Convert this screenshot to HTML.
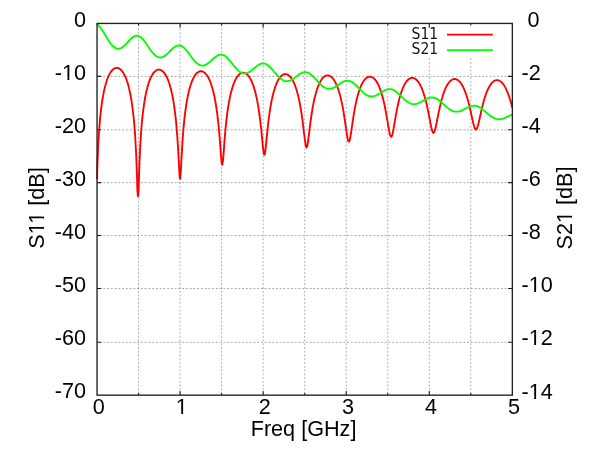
<!DOCTYPE html>
<html><head><meta charset="utf-8"><title>S11 / S21</title>
<style>
html,body{margin:0;padding:0;background:#fff;overflow:hidden;}
svg{display:block;}
text{font-family:"Liberation Sans",Arial,sans-serif;font-size:23.1px;fill:#000;}
.k{font-family:"DejaVu Sans","Liberation Sans",sans-serif;font-size:17.3px;fill:#111;}
.g{stroke:#000;stroke-opacity:.38;stroke-width:1;stroke-dasharray:2 2;stroke-dashoffset:1.2;fill:none;}
.b{stroke:#1c1c1c;stroke-width:1.12;fill:none;}
.bb{stroke:#222;stroke-width:1.45;fill:none;}
.gv{stroke-opacity:.34;stroke-dashoffset:2.7;}
.c{fill:none;stroke-width:2;stroke-linejoin:round;}
</style></head><body>
<svg width="600" height="450" viewBox="0 0 640 480">
<rect width="640" height="480" fill="#fff"/>

<path class="g gv" d="M147.80,421.5 V25.0 M192.10,421.5 V25.0 M236.40,421.5 V25.0 M280.70,421.5 V25.0 M325.00,421.5 V25.0 M369.30,421.5 V25.0 M413.60,421.5 V25.0 M457.90,421.5 V25.0 M502.20,421.5 V25.0"/>
<path class="g" d="M103.5,81.45 H546.5 M103.5,138.45 H546.5 M103.5,194.80 H546.5 M103.5,251.30 H546.5 M103.5,307.70 H546.5 M103.5,365.15 H546.5"/>
<rect x="430" y="26" width="116" height="36" fill="#fff"/>
<path class="b" d="M147.80,421.5 v-2.25 M147.80,25.0 v2.25 M192.10,421.5 v-4.50 M192.10,25.0 v4.50 M236.40,421.5 v-2.25 M236.40,25.0 v2.25 M280.70,421.5 v-4.50 M280.70,25.0 v4.50 M325.00,421.5 v-2.25 M325.00,25.0 v2.25 M369.30,421.5 v-4.50 M369.30,25.0 v4.50 M413.60,421.5 v-2.25 M413.60,25.0 v2.25 M457.90,421.5 v-4.50 M457.90,25.0 v4.50 M502.20,421.5 v-2.25 M502.20,25.0 v2.25 M103.5,81.45 h4.5 M546.5,81.45 h-4.5 M103.5,138.45 h4.5 M546.5,138.45 h-4.5 M103.5,194.80 h4.5 M546.5,194.80 h-4.5 M103.5,251.30 h4.5 M546.5,251.30 h-4.5 M103.5,307.70 h4.5 M546.5,307.70 h-4.5 M103.5,365.15 h4.5 M546.5,365.15 h-4.5"/>
<path class="c" d="M103.5,191.3 L103.9,175.4 L104.4,163.4 L104.8,153.8 L105.3,145.9 L105.7,139.2 L106.2,133.3 L106.6,128.1 L107.0,123.5 L107.5,119.4 L107.9,115.6 L108.4,112.2 L108.8,109.0 L109.3,106.1 L109.7,103.5 L110.2,101.0 L110.6,98.7 L111.0,96.6 L111.5,94.6 L111.9,92.8 L112.4,91.1 L112.8,89.5 L113.3,88.0 L113.7,86.6 L114.1,85.3 L114.6,84.0 L115.0,82.9 L115.5,81.8 L115.9,80.9 L116.4,79.9 L116.8,79.1 L117.2,78.3 L117.7,77.5 L118.1,76.9 L118.6,76.2 L119.0,75.7 L119.5,75.2 L119.9,74.7 L120.4,74.3 L120.8,73.9 L121.2,73.5 L121.7,73.3 L122.1,73.0 L122.6,72.8 L123.0,72.6 L123.5,72.5 L123.9,72.4 L124.3,72.4 L124.8,72.4 L125.2,72.4 L125.7,72.5 L126.1,72.7 L126.6,72.8 L127.0,73.0 L127.4,73.3 L127.9,73.6 L128.3,73.9 L128.8,74.3 L129.2,74.7 L129.7,75.2 L130.1,75.7 L130.6,76.3 L131.0,76.9 L131.4,77.5 L131.9,78.3 L132.3,79.1 L132.8,79.9 L133.2,80.8 L133.7,81.8 L134.1,82.8 L134.5,83.9 L135.0,85.1 L135.4,86.4 L135.9,87.7 L136.3,89.2 L136.8,90.7 L137.2,92.4 L137.6,94.2 L138.1,96.1 L138.5,98.1 L139.0,100.3 L139.4,102.6 L139.9,105.1 L140.3,107.8 L140.7,110.7 L141.2,113.9 L141.6,117.3 L142.1,121.1 L142.5,125.3 L143.0,129.8 L143.4,134.9 L143.9,140.7 L144.3,147.2 L144.7,154.7 L145.2,163.6 L145.6,174.1 L146.1,186.8 L146.5,201.6 L147.0,209.1 L147.4,209.1 L147.8,202.4 L148.3,187.5 L148.7,174.7 L149.2,164.2 L149.6,155.3 L150.1,147.8 L150.5,141.3 L150.9,135.5 L151.4,130.5 L151.8,125.9 L152.3,121.8 L152.7,118.0 L153.2,114.6 L153.6,111.5 L154.1,108.6 L154.5,105.9 L154.9,103.4 L155.4,101.1 L155.8,99.0 L156.3,97.0 L156.7,95.1 L157.2,93.4 L157.6,91.8 L158.0,90.3 L158.5,88.8 L158.9,87.5 L159.4,86.3 L159.8,85.1 L160.3,84.0 L160.7,83.0 L161.1,82.1 L161.6,81.2 L162.0,80.4 L162.5,79.6 L162.9,78.9 L163.4,78.3 L163.8,77.7 L164.3,77.2 L164.7,76.7 L165.1,76.3 L165.6,75.9 L166.0,75.5 L166.5,75.2 L166.9,75.0 L167.4,74.7 L167.8,74.6 L168.2,74.4 L168.7,74.3 L169.1,74.3 L169.6,74.3 L170.0,74.3 L170.5,74.4 L170.9,74.5 L171.3,74.7 L171.8,74.9 L172.2,75.1 L172.7,75.4 L173.1,75.7 L173.6,76.1 L174.0,76.5 L174.5,76.9 L174.9,77.5 L175.3,78.0 L175.8,78.6 L176.2,79.3 L176.7,80.0 L177.1,80.8 L177.6,81.6 L178.0,82.5 L178.4,83.4 L178.9,84.5 L179.3,85.6 L179.8,86.7 L180.2,88.0 L180.7,89.3 L181.1,90.7 L181.5,92.2 L182.0,93.9 L182.4,95.6 L182.9,97.4 L183.3,99.4 L183.8,101.5 L184.2,103.8 L184.7,106.2 L185.1,108.8 L185.5,111.6 L186.0,114.6 L186.4,117.9 L186.9,121.5 L187.3,125.4 L187.8,129.6 L188.2,134.3 L188.6,139.5 L189.1,145.2 L189.5,151.6 L190.0,158.7 L190.4,166.6 L190.9,175.1 L191.3,183.3 L191.7,189.4 L192.2,190.8 L192.6,186.7 L193.1,179.2 L193.5,170.7 L194.0,162.5 L194.4,155.1 L194.8,148.4 L195.3,142.4 L195.7,137.0 L196.2,132.1 L196.6,127.7 L197.1,123.7 L197.5,120.0 L198.0,116.7 L198.4,113.6 L198.8,110.7 L199.3,108.0 L199.7,105.5 L200.2,103.2 L200.6,101.1 L201.1,99.1 L201.5,97.2 L201.9,95.5 L202.4,93.9 L202.8,92.3 L203.3,90.9 L203.7,89.5 L204.2,88.3 L204.6,87.1 L205.0,86.0 L205.5,85.0 L205.9,84.0 L206.4,83.1 L206.8,82.3 L207.3,81.5 L207.7,80.8 L208.2,80.2 L208.6,79.6 L209.0,79.0 L209.5,78.5 L209.9,78.1 L210.4,77.7 L210.8,77.3 L211.3,77.0 L211.7,76.7 L212.1,76.5 L212.6,76.3 L213.0,76.1 L213.5,76.0 L213.9,76.0 L214.4,76.0 L214.8,76.0 L215.2,76.0 L215.7,76.1 L216.1,76.3 L216.6,76.5 L217.0,76.7 L217.5,77.0 L217.9,77.3 L218.4,77.6 L218.8,78.0 L219.2,78.5 L219.7,79.0 L220.1,79.5 L220.6,80.1 L221.0,80.7 L221.5,81.4 L221.9,82.2 L222.3,83.0 L222.8,83.9 L223.2,84.8 L223.7,85.8 L224.1,86.9 L224.6,88.0 L225.0,89.2 L225.4,90.5 L225.9,91.9 L226.3,93.3 L226.8,94.9 L227.2,96.6 L227.7,98.3 L228.1,100.2 L228.6,102.3 L229.0,104.4 L229.4,106.7 L229.9,109.2 L230.3,111.8 L230.8,114.7 L231.2,117.7 L231.7,121.0 L232.1,124.6 L232.5,128.4 L233.0,132.6 L233.4,137.1 L233.9,142.0 L234.3,147.3 L234.8,153.0 L235.2,158.9 L235.6,164.8 L236.1,170.2 L236.5,174.2 L237.0,175.8 L237.4,174.5 L237.9,170.8 L238.3,165.6 L238.8,159.7 L239.2,153.8 L239.6,148.2 L240.1,142.9 L240.5,138.0 L241.0,133.4 L241.4,129.3 L241.9,125.4 L242.3,121.9 L242.7,118.6 L243.2,115.5 L243.6,112.7 L244.1,110.1 L244.5,107.6 L245.0,105.3 L245.4,103.2 L245.8,101.2 L246.3,99.3 L246.7,97.5 L247.2,95.9 L247.6,94.3 L248.1,92.9 L248.5,91.5 L248.9,90.3 L249.4,89.1 L249.8,88.0 L250.3,86.9 L250.7,85.9 L251.2,85.0 L251.6,84.2 L252.1,83.4 L252.5,82.7 L252.9,82.0 L253.4,81.4 L253.8,80.8 L254.3,80.3 L254.7,79.8 L255.2,79.4 L255.6,79.0 L256.0,78.7 L256.5,78.4 L256.9,78.1 L257.4,77.9 L257.8,77.8 L258.3,77.6 L258.7,77.6 L259.1,77.5 L259.6,77.5 L260.0,77.6 L260.5,77.7 L260.9,77.8 L261.4,78.0 L261.8,78.2 L262.3,78.4 L262.7,78.7 L263.1,79.0 L263.6,79.4 L264.0,79.8 L264.5,80.3 L264.9,80.8 L265.4,81.4 L265.8,82.0 L266.2,82.7 L266.7,83.4 L267.1,84.2 L267.6,85.0 L268.0,85.9 L268.5,86.9 L268.9,87.9 L269.3,89.0 L269.8,90.2 L270.2,91.4 L270.7,92.7 L271.1,94.1 L271.6,95.6 L272.0,97.2 L272.5,98.9 L272.9,100.7 L273.3,102.6 L273.8,104.6 L274.2,106.8 L274.7,109.1 L275.1,111.6 L275.6,114.2 L276.0,117.0 L276.4,120.0 L276.9,123.2 L277.3,126.6 L277.8,130.3 L278.2,134.2 L278.7,138.4 L279.1,142.7 L279.5,147.3 L280.0,151.9 L280.4,156.3 L280.9,160.3 L281.3,163.4 L281.8,165.0 L282.2,165.1 L282.7,163.4 L283.1,160.3 L283.5,156.4 L284.0,151.9 L284.4,147.4 L284.9,142.9 L285.3,138.6 L285.8,134.4 L286.2,130.6 L286.6,126.9 L287.1,123.6 L287.5,120.4 L288.0,117.4 L288.4,114.6 L288.9,112.0 L289.3,109.6 L289.7,107.3 L290.2,105.2 L290.6,103.2 L291.1,101.3 L291.5,99.6 L292.0,97.9 L292.4,96.4 L292.9,94.9 L293.3,93.5 L293.7,92.2 L294.2,91.0 L294.6,89.9 L295.1,88.8 L295.5,87.8 L296.0,86.9 L296.4,86.0 L296.8,85.2 L297.3,84.5 L297.7,83.8 L298.2,83.1 L298.6,82.5 L299.1,82.0 L299.5,81.5 L299.9,81.1 L300.4,80.7 L300.8,80.3 L301.3,80.0 L301.7,79.7 L302.2,79.5 L302.6,79.3 L303.0,79.2 L303.5,79.1 L303.9,79.0 L304.4,79.0 L304.8,79.0 L305.3,79.1 L305.7,79.2 L306.2,79.3 L306.6,79.5 L307.0,79.8 L307.5,80.0 L307.9,80.3 L308.4,80.7 L308.8,81.1 L309.3,81.5 L309.7,82.0 L310.1,82.6 L310.6,83.1 L311.0,83.8 L311.5,84.5 L311.9,85.2 L312.4,86.0 L312.8,86.8 L313.2,87.8 L313.7,88.7 L314.1,89.8 L314.6,90.9 L315.0,92.1 L315.5,93.3 L315.9,94.6 L316.4,96.0 L316.8,97.5 L317.2,99.1 L317.7,100.8 L318.1,102.6 L318.6,104.5 L319.0,106.5 L319.5,108.7 L319.9,110.9 L320.3,113.3 L320.8,115.9 L321.2,118.6 L321.7,121.5 L322.1,124.5 L322.6,127.7 L323.0,131.1 L323.4,134.6 L323.9,138.3 L324.3,142.0 L324.8,145.7 L325.2,149.2 L325.7,152.4 L326.1,155.0 L326.6,156.7 L327.0,157.4 L327.4,156.8 L327.9,155.2 L328.3,152.7 L328.8,149.6 L329.2,146.1 L329.7,142.5 L330.1,138.8 L330.5,135.1 L331.0,131.6 L331.4,128.3 L331.9,125.1 L332.3,122.1 L332.8,119.2 L333.2,116.5 L333.6,114.0 L334.1,111.6 L334.5,109.4 L335.0,107.3 L335.4,105.3 L335.9,103.4 L336.3,101.6 L336.8,100.0 L337.2,98.4 L337.6,96.9 L338.1,95.5 L338.5,94.2 L339.0,93.0 L339.4,91.8 L339.9,90.7 L340.3,89.7 L340.7,88.8 L341.2,87.9 L341.6,87.1 L342.1,86.3 L342.5,85.6 L343.0,84.9 L343.4,84.3 L343.8,83.7 L344.3,83.2 L344.7,82.7 L345.2,82.3 L345.6,81.9 L346.1,81.6 L346.5,81.3 L347.0,81.1 L347.4,80.8 L347.8,80.7 L348.3,80.6 L348.7,80.5 L349.2,80.4 L349.6,80.4 L350.1,80.5 L350.5,80.5 L350.9,80.7 L351.4,80.8 L351.8,81.0 L352.3,81.3 L352.7,81.5 L353.2,81.9 L353.6,82.2 L354.0,82.6 L354.5,83.1 L354.9,83.6 L355.4,84.1 L355.8,84.7 L356.3,85.4 L356.7,86.1 L357.1,86.8 L357.6,87.6 L358.0,88.5 L358.5,89.4 L358.9,90.4 L359.4,91.4 L359.8,92.5 L360.3,93.7 L360.7,95.0 L361.1,96.3 L361.6,97.7 L362.0,99.2 L362.5,100.7 L362.9,102.4 L363.4,104.1 L363.8,106.0 L364.2,108.0 L364.7,110.0 L365.1,112.2 L365.6,114.5 L366.0,117.0 L366.5,119.5 L366.9,122.2 L367.3,125.0 L367.8,128.0 L368.2,131.0 L368.7,134.1 L369.1,137.2 L369.6,140.3 L370.0,143.2 L370.5,145.9 L370.9,148.2 L371.3,149.9 L371.8,150.9 L372.2,151.1 L372.7,150.4 L373.1,149.0 L373.6,147.0 L374.0,144.4 L374.4,141.6 L374.9,138.6 L375.3,135.5 L375.8,132.4 L376.2,129.4 L376.7,126.5 L377.1,123.6 L377.5,120.9 L378.0,118.4 L378.4,115.9 L378.9,113.6 L379.3,111.4 L379.8,109.3 L380.2,107.3 L380.7,105.4 L381.1,103.7 L381.5,102.0 L382.0,100.4 L382.4,98.9 L382.9,97.5 L383.3,96.2 L383.8,95.0 L384.2,93.8 L384.6,92.7 L385.1,91.6 L385.5,90.7 L386.0,89.7 L386.4,88.9 L386.9,88.1 L387.3,87.3 L387.7,86.7 L388.2,86.0 L388.6,85.4 L389.1,84.9 L389.5,84.4 L390.0,83.9 L390.4,83.5 L390.9,83.2 L391.3,82.8 L391.7,82.6 L392.2,82.3 L392.6,82.1 L393.1,82.0 L393.5,81.9 L394.0,81.8 L394.4,81.8 L394.8,81.8 L395.3,81.8 L395.7,81.9 L396.2,82.0 L396.6,82.2 L397.1,82.4 L397.5,82.7 L397.9,82.9 L398.4,83.3 L398.8,83.6 L399.3,84.1 L399.7,84.5 L400.2,85.0 L400.6,85.6 L401.1,86.2 L401.5,86.8 L401.9,87.5 L402.4,88.3 L402.8,89.1 L403.3,89.9 L403.7,90.8 L404.2,91.8 L404.6,92.8 L405.0,93.9 L405.5,95.1 L405.9,96.3 L406.4,97.6 L406.8,99.0 L407.3,100.5 L407.7,102.0 L408.1,103.6 L408.6,105.3 L409.0,107.1 L409.5,109.0 L409.9,111.0 L410.4,113.1 L410.8,115.2 L411.2,117.5 L411.7,119.9 L412.1,122.4 L412.6,124.9 L413.0,127.5 L413.5,130.2 L413.9,132.9 L414.4,135.5 L414.8,138.0 L415.2,140.4 L415.7,142.5 L416.1,144.1 L416.6,145.3 L417.0,145.9 L417.5,145.9 L417.9,145.3 L418.3,144.1 L418.8,142.4 L419.2,140.4 L419.7,138.0 L420.1,135.5 L420.6,132.9 L421.0,130.2 L421.4,127.6 L421.9,125.0 L422.3,122.5 L422.8,120.1 L423.2,117.7 L423.7,115.5 L424.1,113.3 L424.6,111.3 L425.0,109.4 L425.4,107.5 L425.9,105.7 L426.3,104.1 L426.8,102.5 L427.2,101.0 L427.7,99.6 L428.1,98.2 L428.5,97.0 L429.0,95.8 L429.4,94.6 L429.9,93.6 L430.3,92.6 L430.8,91.6 L431.2,90.7 L431.6,89.9 L432.1,89.1 L432.5,88.4 L433.0,87.8 L433.4,87.1 L433.9,86.6 L434.3,86.0 L434.8,85.6 L435.2,85.1 L435.6,84.7 L436.1,84.4 L436.5,84.1 L437.0,83.8 L437.4,83.6 L437.9,83.4 L438.3,83.3 L438.7,83.1 L439.2,83.1 L439.6,83.1 L440.1,83.1 L440.5,83.1 L441.0,83.2 L441.4,83.3 L441.8,83.5 L442.3,83.7 L442.7,84.0 L443.2,84.3 L443.6,84.6 L444.1,85.0 L444.5,85.4 L445.0,85.8 L445.4,86.3 L445.8,86.9 L446.3,87.5 L446.7,88.1 L447.2,88.8 L447.6,89.6 L448.1,90.3 L448.5,91.2 L448.9,92.1 L449.4,93.0 L449.8,94.1 L450.3,95.1 L450.7,96.3 L451.2,97.5 L451.6,98.7 L452.0,100.1 L452.5,101.5 L452.9,102.9 L453.4,104.5 L453.8,106.1 L454.3,107.8 L454.7,109.6 L455.2,111.5 L455.6,113.5 L456.0,115.5 L456.5,117.6 L456.9,119.8 L457.4,122.0 L457.8,124.3 L458.3,126.6 L458.7,129.0 L459.1,131.3 L459.6,133.5 L460.0,135.6 L460.5,137.5 L460.9,139.1 L461.4,140.4 L461.8,141.3 L462.2,141.7 L462.7,141.7 L463.1,141.1 L463.6,140.1 L464.0,138.7 L464.5,137.1 L464.9,135.1 L465.3,133.0 L465.8,130.8 L466.2,128.5 L466.7,126.2 L467.1,123.9 L467.6,121.6 L468.0,119.4 L468.5,117.3 L468.9,115.2 L469.3,113.3 L469.8,111.4 L470.2,109.5 L470.7,107.8 L471.1,106.1 L471.6,104.6 L472.0,103.1 L472.4,101.6 L472.9,100.3 L473.3,99.0 L473.8,97.8 L474.2,96.6 L474.7,95.5 L475.1,94.5 L475.5,93.5 L476.0,92.6 L476.4,91.8 L476.9,91.0 L477.3,90.2 L477.8,89.5 L478.2,88.9 L478.7,88.3 L479.1,87.7 L479.5,87.2 L480.0,86.7 L480.4,86.3 L480.9,85.9 L481.3,85.6 L481.8,85.3 L482.2,85.0 L482.6,84.8 L483.1,84.6 L483.5,84.5 L484.0,84.4 L484.4,84.3 L484.9,84.3 L485.3,84.3 L485.7,84.4 L486.2,84.4 L486.6,84.6 L487.1,84.7 L487.5,85.0 L488.0,85.2 L488.4,85.5 L488.9,85.8 L489.3,86.2 L489.7,86.6 L490.2,87.0 L490.6,87.5 L491.1,88.1 L491.5,88.7 L492.0,89.3 L492.4,90.0 L492.8,90.7 L493.3,91.5 L493.7,92.3 L494.2,93.2 L494.6,94.1 L495.1,95.1 L495.5,96.1 L495.9,97.2 L496.4,98.4 L496.8,99.6 L497.3,100.9 L497.7,102.2 L498.2,103.6 L498.6,105.1 L499.1,106.6 L499.5,108.2 L499.9,109.9 L500.4,111.7 L500.8,113.5 L501.3,115.4 L501.7,117.3 L502.2,119.3 L502.6,121.3 L503.0,123.4 L503.5,125.4 L503.9,127.5 L504.4,129.5 L504.8,131.4 L505.3,133.1 L505.7,134.7 L506.1,136.0 L506.6,137.1 L507.0,137.8 L507.5,138.1 L507.9,138.1 L508.4,137.6 L508.8,136.8 L509.3,135.7 L509.7,134.3 L510.1,132.7 L510.6,130.9 L511.0,129.0 L511.5,127.0 L511.9,125.0 L512.4,123.0 L512.8,121.0 L513.2,119.0 L513.7,117.0 L514.1,115.1 L514.6,113.3 L515.0,111.5 L515.5,109.8 L515.9,108.2 L516.3,106.6 L516.8,105.1 L517.2,103.7 L517.7,102.3 L518.1,101.1 L518.6,99.8 L519.0,98.6 L519.4,97.5 L519.9,96.5 L520.3,95.5 L520.8,94.5 L521.2,93.7 L521.7,92.8 L522.1,92.0 L522.6,91.3 L523.0,90.6 L523.4,90.0 L523.9,89.4 L524.3,88.8 L524.8,88.3 L525.2,87.9 L525.7,87.5 L526.1,87.1 L526.5,86.7 L527.0,86.5 L527.4,86.2 L527.9,86.0 L528.3,85.8 L528.8,85.7 L529.2,85.6 L529.6,85.5 L530.1,85.5 L530.5,85.5 L531.0,85.5 L531.4,85.6 L531.9,85.7 L532.3,85.9 L532.8,86.1 L533.2,86.3 L533.6,86.6 L534.1,86.9 L534.5,87.3 L535.0,87.7 L535.4,88.1 L535.9,88.6 L536.3,89.1 L536.7,89.7 L537.2,90.3 L537.6,91.0 L538.1,91.7 L538.5,92.4 L539.0,93.2 L539.4,94.0 L539.8,94.9 L540.3,95.9 L540.7,96.9 L541.2,97.9 L541.6,99.0 L542.1,100.2 L542.5,101.4 L543.0,102.7 L543.4,104.0 L543.8,105.4 L544.3,106.9 L544.7,108.4 L545.2,110.0 L545.6,111.6 L546.1,113.3 L546.5,115.0" stroke="#f00"/>
<path class="c" d="M103.5,25.1 L104.6,26.6 L105.7,27.8 L106.8,29.1 L107.9,30.6 L109.1,32.3 L110.2,34.0 L111.3,35.8 L112.4,37.7 L113.5,39.5 L114.6,41.4 L115.7,43.1 L116.8,44.8 L117.9,46.4 L119.0,47.7 L120.2,49.0 L121.3,50.0 L122.4,50.8 L123.5,51.4 L124.6,51.8 L125.7,52.0 L126.8,52.0 L127.9,51.7 L129.0,51.3 L130.1,50.7 L131.3,49.9 L132.4,48.9 L133.5,47.9 L134.6,46.8 L135.7,45.6 L136.8,44.4 L137.9,43.2 L139.0,42.0 L140.1,41.0 L141.2,40.0 L142.4,39.2 L143.5,38.6 L144.6,38.2 L145.7,38.1 L146.8,38.1 L147.9,38.4 L149.0,39.0 L150.1,39.7 L151.2,40.7 L152.4,41.9 L153.5,43.2 L154.6,44.7 L155.7,46.2 L156.8,47.8 L157.9,49.5 L159.0,51.1 L160.1,52.7 L161.2,54.3 L162.3,55.7 L163.5,57.0 L164.6,58.2 L165.7,59.2 L166.8,60.0 L167.9,60.6 L169.0,61.0 L170.1,61.3 L171.2,61.3 L172.3,61.2 L173.4,60.8 L174.6,60.3 L175.7,59.6 L176.8,58.8 L177.9,57.9 L179.0,56.9 L180.1,55.8 L181.2,54.7 L182.3,53.6 L183.4,52.5 L184.6,51.5 L185.7,50.6 L186.8,49.8 L187.9,49.1 L189.0,48.7 L190.1,48.5 L191.2,48.4 L192.3,48.6 L193.4,49.0 L194.5,49.6 L195.7,50.4 L196.8,51.4 L197.9,52.6 L199.0,53.9 L200.1,55.3 L201.2,56.8 L202.3,58.3 L203.4,59.8 L204.5,61.3 L205.6,62.8 L206.8,64.1 L207.9,65.4 L209.0,66.5 L210.1,67.5 L211.2,68.4 L212.3,69.0 L213.4,69.5 L214.5,69.8 L215.6,70.0 L216.7,69.9 L217.9,69.7 L219.0,69.3 L220.1,68.7 L221.2,68.0 L222.3,67.2 L223.4,66.3 L224.5,65.4 L225.6,64.3 L226.7,63.3 L227.9,62.3 L229.0,61.4 L230.1,60.5 L231.2,59.7 L232.3,59.1 L233.4,58.6 L234.5,58.3 L235.6,58.2 L236.7,58.3 L237.8,58.6 L239.0,59.0 L240.1,59.7 L241.2,60.6 L242.3,61.6 L243.4,62.7 L244.5,64.0 L245.6,65.3 L246.7,66.7 L247.8,68.1 L248.9,69.5 L250.1,70.9 L251.2,72.2 L252.3,73.5 L253.4,74.6 L254.5,75.6 L255.6,76.5 L256.7,77.2 L257.8,77.7 L258.9,78.1 L260.0,78.3 L261.2,78.4 L262.3,78.2 L263.4,77.9 L264.5,77.5 L265.6,76.9 L266.7,76.2 L267.8,75.5 L268.9,74.6 L270.0,73.7 L271.2,72.8 L272.3,71.9 L273.4,71.0 L274.5,70.1 L275.6,69.4 L276.7,68.7 L277.8,68.2 L278.9,67.9 L280.0,67.7 L281.1,67.7 L282.3,67.9 L283.4,68.2 L284.5,68.8 L285.6,69.5 L286.7,70.4 L287.8,71.4 L288.9,72.5 L290.0,73.7 L291.1,75.0 L292.2,76.3 L293.4,77.6 L294.5,78.9 L295.6,80.2 L296.7,81.4 L297.8,82.5 L298.9,83.5 L300.0,84.4 L301.1,85.1 L302.2,85.7 L303.3,86.2 L304.5,86.5 L305.6,86.6 L306.7,86.6 L307.8,86.4 L308.9,86.1 L310.0,85.6 L311.1,85.1 L312.2,84.4 L313.3,83.7 L314.5,82.9 L315.6,82.0 L316.7,81.2 L317.8,80.3 L318.9,79.5 L320.0,78.8 L321.1,78.2 L322.2,77.7 L323.3,77.3 L324.4,77.0 L325.6,76.9 L326.7,77.0 L327.8,77.3 L328.9,77.7 L330.0,78.3 L331.1,79.0 L332.2,79.9 L333.3,80.9 L334.4,82.0 L335.5,83.1 L336.7,84.3 L337.8,85.6 L338.9,86.8 L340.0,88.0 L341.1,89.2 L342.2,90.3 L343.3,91.3 L344.4,92.2 L345.5,93.0 L346.7,93.6 L347.8,94.1 L348.9,94.5 L350.0,94.7 L351.1,94.8 L352.2,94.7 L353.3,94.5 L354.4,94.2 L355.5,93.7 L356.6,93.2 L357.8,92.6 L358.9,91.8 L360.0,91.1 L361.1,90.3 L362.2,89.6 L363.3,88.8 L364.4,88.1 L365.5,87.5 L366.6,86.9 L367.7,86.5 L368.9,86.2 L370.0,86.1 L371.1,86.1 L372.2,86.2 L373.3,86.5 L374.4,87.0 L375.5,87.6 L376.6,88.4 L377.7,89.2 L378.8,90.2 L380.0,91.2 L381.1,92.3 L382.2,93.5 L383.3,94.7 L384.4,95.8 L385.5,96.9 L386.6,98.0 L387.7,99.0 L388.8,99.9 L390.0,100.7 L391.1,101.4 L392.2,102.0 L393.3,102.4 L394.4,102.7 L395.5,102.9 L396.6,102.9 L397.7,102.8 L398.8,102.6 L399.9,102.3 L401.1,101.8 L402.2,101.3 L403.3,100.7 L404.4,100.0 L405.5,99.4 L406.6,98.6 L407.7,98.0 L408.8,97.3 L409.9,96.7 L411.0,96.1 L412.2,95.7 L413.3,95.4 L414.4,95.1 L415.5,95.1 L416.6,95.1 L417.7,95.3 L418.8,95.7 L419.9,96.2 L421.0,96.8 L422.1,97.5 L423.3,98.4 L424.4,99.3 L425.5,100.3 L426.6,101.4 L427.7,102.5 L428.8,103.6 L429.9,104.6 L431.0,105.7 L432.1,106.7 L433.3,107.6 L434.4,108.4 L435.5,109.1 L436.6,109.8 L437.7,110.3 L438.8,110.7 L439.9,110.9 L441.0,111.0 L442.1,111.0 L443.2,110.9 L444.4,110.7 L445.5,110.4 L446.6,109.9 L447.7,109.4 L448.8,108.9 L449.9,108.3 L451.0,107.6 L452.1,107.0 L453.2,106.4 L454.3,105.8 L455.5,105.2 L456.6,104.8 L457.7,104.4 L458.8,104.1 L459.9,104.0 L461.0,104.0 L462.1,104.1 L463.2,104.3 L464.3,104.7 L465.4,105.2 L466.6,105.8 L467.7,106.6 L468.8,107.4 L469.9,108.3 L471.0,109.3 L472.1,110.3 L473.2,111.3 L474.3,112.3 L475.4,113.3 L476.6,114.3 L477.7,115.2 L478.8,116.1 L479.9,116.8 L481.0,117.5 L482.1,118.0 L483.2,118.5 L484.3,118.8 L485.4,119.0 L486.5,119.1 L487.7,119.1 L488.8,119.0 L489.9,118.8 L491.0,118.4 L492.1,118.0 L493.2,117.6 L494.3,117.0 L495.4,116.5 L496.5,115.9 L497.6,115.3 L498.8,114.8 L499.9,114.3 L501.0,113.8 L502.1,113.4 L503.2,113.1 L504.3,112.9 L505.4,112.8 L506.5,112.8 L507.6,113.0 L508.8,113.2 L509.9,113.6 L511.0,114.2 L512.1,114.8 L513.2,115.5 L514.3,116.3 L515.4,117.2 L516.5,118.1 L517.6,119.0 L518.7,120.0 L519.9,121.0 L521.0,121.9 L522.1,122.8 L523.2,123.6 L524.3,124.4 L525.4,125.1 L526.5,125.7 L527.6,126.3 L528.7,126.7 L529.8,127.0 L531.0,127.2 L532.1,127.2 L533.2,127.2 L534.3,127.1 L535.4,126.9 L536.5,126.5 L537.6,126.2 L538.7,125.7 L539.8,125.2 L540.9,124.7 L542.1,124.2 L543.2,123.7 L544.3,123.2 L545.4,122.7 L546.5,122.3" stroke="#0f0"/>
<rect class="bb" x="103.5" y="25.0" width="443.0" height="396.5"/>
<g transform="translate(467.4,41.2) scale(0.86,1)"><text class="k" text-anchor="end">S11</text></g>
<g transform="translate(467.4,57.7) scale(0.86,1)"><text class="k" text-anchor="end">S21</text></g>
<path class="c" d="M476.8,36.9 H525.7" stroke="#f00"/>
<path class="c" d="M476.8,53.5 H525.7" stroke="#0f0"/>
<g transform="translate(91.80,28.50) scale(1,1.035)"><text text-anchor="end">0</text></g>
<g transform="translate(562.70,28.60) scale(1,1.035)"><text>0</text></g>
<g transform="translate(91.80,85.14) scale(1,1.035)"><text text-anchor="end">-10</text><rect x="-24.62" y="-2.73" width="4.75" height="3.73" fill="#fff"/><rect x="-17.83" y="-2.73" width="4.57" height="3.73" fill="#fff"/></g>
<g transform="translate(556.30,85.24) scale(1,1.035)"><text>-2</text></g>
<g transform="translate(91.80,141.79) scale(1,1.035)"><text text-anchor="end">-20</text></g>
<g transform="translate(556.30,141.89) scale(1,1.035)"><text>-4</text></g>
<g transform="translate(91.80,198.43) scale(1,1.035)"><text text-anchor="end">-30</text></g>
<g transform="translate(556.30,198.53) scale(1,1.035)"><text>-6</text></g>
<g transform="translate(91.80,255.07) scale(1,1.035)"><text text-anchor="end">-40</text></g>
<g transform="translate(556.30,255.17) scale(1,1.035)"><text>-8</text></g>
<g transform="translate(91.80,311.71) scale(1,1.035)"><text text-anchor="end">-50</text></g>
<g transform="translate(556.30,311.81) scale(1,1.035)"><text>-10</text><rect x="8.74" y="-2.73" width="4.75" height="3.73" fill="#fff"/><rect x="15.53" y="-2.73" width="4.57" height="3.73" fill="#fff"/></g>
<g transform="translate(91.80,368.36) scale(1,1.035)"><text text-anchor="end">-60</text></g>
<g transform="translate(556.30,368.46) scale(1,1.035)"><text>-12</text><rect x="8.74" y="-2.73" width="4.75" height="3.73" fill="#fff"/><rect x="15.53" y="-2.73" width="4.57" height="3.73" fill="#fff"/></g>
<g transform="translate(91.80,425.00) scale(1,1.035)"><text text-anchor="end">-70</text></g>
<g transform="translate(556.30,425.10) scale(1,1.035)"><text>-14</text><rect x="8.74" y="-2.73" width="4.75" height="3.73" fill="#fff"/><rect x="15.53" y="-2.73" width="4.57" height="3.73" fill="#fff"/></g>
<g transform="translate(105.30,441.10) scale(1,1.035)"><text text-anchor="middle">0</text></g>
<g transform="translate(193.90,441.10) scale(1,1.035)"><text text-anchor="middle">1</text><rect x="-5.36" y="-2.73" width="4.75" height="3.73" fill="#fff"/><rect x="1.43" y="-2.73" width="4.57" height="3.73" fill="#fff"/></g>
<g transform="translate(282.50,441.10) scale(1,1.035)"><text text-anchor="middle">2</text></g>
<g transform="translate(371.10,441.10) scale(1,1.035)"><text text-anchor="middle">3</text></g>
<g transform="translate(459.70,441.10) scale(1,1.035)"><text text-anchor="middle">4</text></g>
<g transform="translate(548.30,441.10) scale(1,1.035)"><text text-anchor="middle">5</text></g>
<g transform="translate(323.80,465.40) scale(1,1.035)"><text text-anchor="middle">Freq [GHz]</text></g>
<g transform="translate(46.90,221.90) rotate(-90) scale(1,1.035)"><text text-anchor="middle">S11 [dB]</text><rect x="-26.97" y="-2.73" width="4.75" height="3.73" fill="#fff"/><rect x="-20.18" y="-2.73" width="4.57" height="3.73" fill="#fff"/><rect x="-15.85" y="-2.73" width="4.75" height="3.73" fill="#fff"/><rect x="-9.06" y="-2.73" width="4.57" height="3.73" fill="#fff"/></g>
<g transform="translate(610.10,221.90) rotate(-90) scale(1,1.035)"><text text-anchor="middle">S21 [dB]</text><rect x="-14.98" y="-2.73" width="4.75" height="3.73" fill="#fff"/><rect x="-8.19" y="-2.73" width="4.57" height="3.73" fill="#fff"/></g>
</svg></body></html>
